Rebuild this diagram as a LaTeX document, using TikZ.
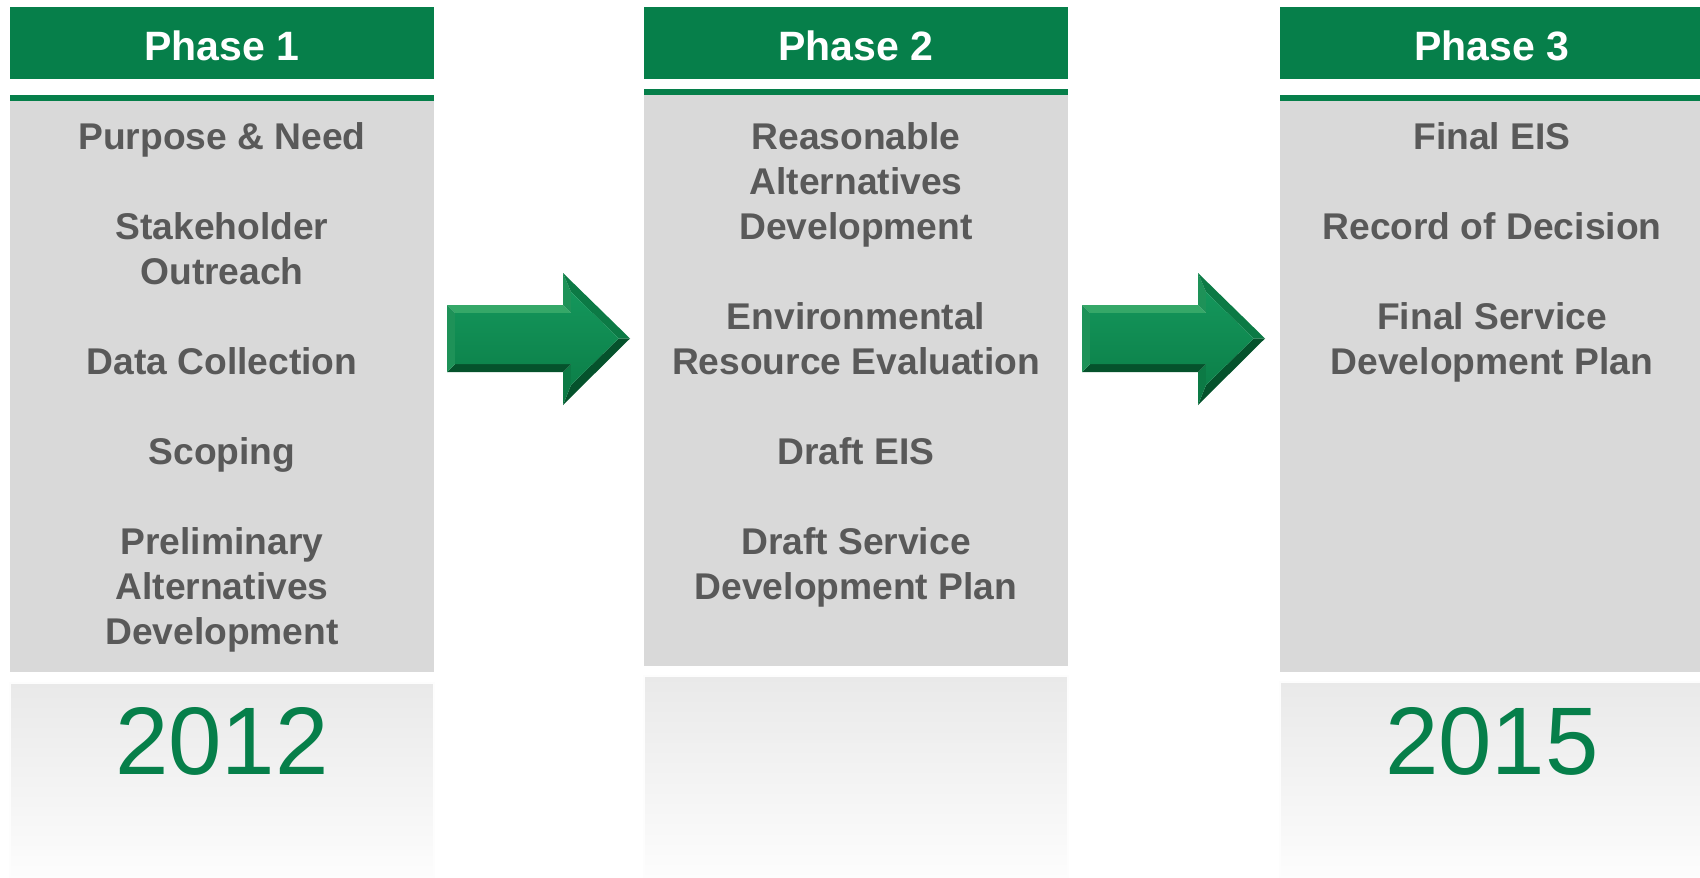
\documentclass[tikz,border=0pt]{standalone}
\usepackage{fontspec}
\setmainfont{Liberation Sans}
\definecolor{hdrgreen}{HTML}{067F4A}
\definecolor{boxgray}{HTML}{D9D9D9}
\definecolor{txtgray}{HTML}{595959}
\definecolor{bevlight}{HTML}{35A868}
\definecolor{bevmid}{HTML}{1E9258}
\definecolor{bevedge}{HTML}{0C7A45}
\definecolor{bevdark}{HTML}{05522C}
\definecolor{facetop}{HTML}{14965B}
\definecolor{facebot}{HTML}{0C8049}
\definecolor{fadetop}{HTML}{E9E9E9}
\definecolor{fadebot}{HTML}{FDFDFD}
\tikzset{
  hdrbox/.style={fill=hdrgreen, draw=none},
  hdrtext/.style={text=white, inner sep=0pt, anchor=base, font=\fontsize{41}{50}\selectfont\bfseries},
  itemtext/.style={text=txtgray, inner sep=0pt, anchor=base, font=\fontsize{37.2}{45}\selectfont\bfseries},
  yeartext/.style={text=hdrgreen, inner sep=0pt, anchor=base, font=\fontsize{96}{110}\selectfont},
  fadebox/.style={top color=fadetop, bottom color=fadebot, draw=fadebot, line width=1.5pt},
}
\newcommand{\bevarrow}{%
  % outer facets
  \fill[bevlight] (447,305) -- (563,305) -- (571,313) -- (455,313) -- cycle;
  \fill[bevmid] (563,305) -- (563,273) -- (571,292) -- (571,313) -- cycle;
  \fill[bevedge] (563,273) -- (630,338.5) -- (618.6,338.5) -- (571,292) -- cycle;
  \fill[bevdark] (630,338.5) -- (563,405) -- (571,385) -- (618.6,338.5) -- cycle;
  \fill[bevedge] (563,405) -- (563,372) -- (571,364) -- (571,385) -- cycle;
  \fill[bevdark] (563,372) -- (447,372) -- (455,364) -- (571,364) -- cycle;
  \fill[bevmid] (447,372) -- (447,305) -- (455,313) -- (455,364) -- cycle;
  % face
  \shade[top color=facetop, bottom color=facebot] (455,313) -- (571,313) -- (571,292) -- (618.6,338.5) -- (571,385) -- (571,364) -- (455,364) -- cycle;
}
\begin{document}
\begin{tikzpicture}[x=1pt,y=-1pt]
\useasboundingbox (0,0) rectangle (1700,878);
\fill[white] (0,0) rectangle (1700,878);

% ---------- Phase 1 ----------
\fill[hdrbox] (10,7) rectangle (434,79);
\node[hdrtext] (h1) at (222,60) {Phase 1};
\fill[hdrgreen] (10,95) rectangle (434,101);
\fill[boxgray] (10,101) rectangle (434,672);
\shade[fadebox] (10,683) rectangle (434,880);
\node[itemtext] (a1) at (222,149.5) {Purpose \& Need};
\node[itemtext] (a2) at (222,239.5) {Stakeholder};
\node[itemtext] (a3) at (222,284.5) {Outreach};
\node[itemtext] (a4) at (222,374.5) {Data Collection};
\node[itemtext] (a5) at (222,464.5) {Scoping};
\node[itemtext] (a6) at (222,554.5) {Preliminary};
\node[itemtext] (a7) at (222,599.5) {Alternatives};
\node[itemtext] (a8) at (222,644.5) {Development};
\node[yeartext] (y1) at (222,774) {2012};

% ---------- Phase 2 ----------
\fill[hdrbox] (644,7) rectangle (1068,79);
\node[hdrtext] (h2) at (856,60) {Phase 2};
\fill[hdrgreen] (644,89) rectangle (1068,95);
\fill[boxgray] (644,95) rectangle (1068,666);
\shade[fadebox] (644,676) rectangle (1068,880);
\node[itemtext] (b1) at (856,149.5) {Reasonable};
\node[itemtext] (b2) at (856,194.5) {Alternatives};
\node[itemtext] (b3) at (856,239.5) {Development};
\node[itemtext] (b4) at (856,329.5) {Environmental};
\node[itemtext] (b5) at (856,374.5) {Resource Evaluation};
\node[itemtext] (b6) at (856,464.5) {Draft EIS};
\node[itemtext] (b7) at (856,554.5) {Draft Service};
\node[itemtext] (b8) at (856,599.5) {Development Plan};

% ---------- Phase 3 ----------
\fill[hdrbox] (1280,7) rectangle (1704,79);
\node[hdrtext] (h3) at (1492,60) {Phase 3};
\fill[hdrgreen] (1280,95) rectangle (1704,101);
\fill[boxgray] (1280,101) rectangle (1704,672);
\shade[fadebox] (1280,682) rectangle (1704,880);
\node[itemtext] (c1) at (1492,149.5) {Final EIS};
\node[itemtext] (c2) at (1492,239.5) {Record of Decision};
\node[itemtext] (c3) at (1492,329.5) {Final Service};
\node[itemtext] (c4) at (1492,374.5) {Development Plan};
\node[yeartext] (y3) at (1492,774) {2015};

% ---------- Arrows ----------
\begin{scope}
  \bevarrow
\end{scope}
\begin{scope}[shift={(635,0)}]
  \bevarrow
\end{scope}
\end{tikzpicture}
\end{document}
